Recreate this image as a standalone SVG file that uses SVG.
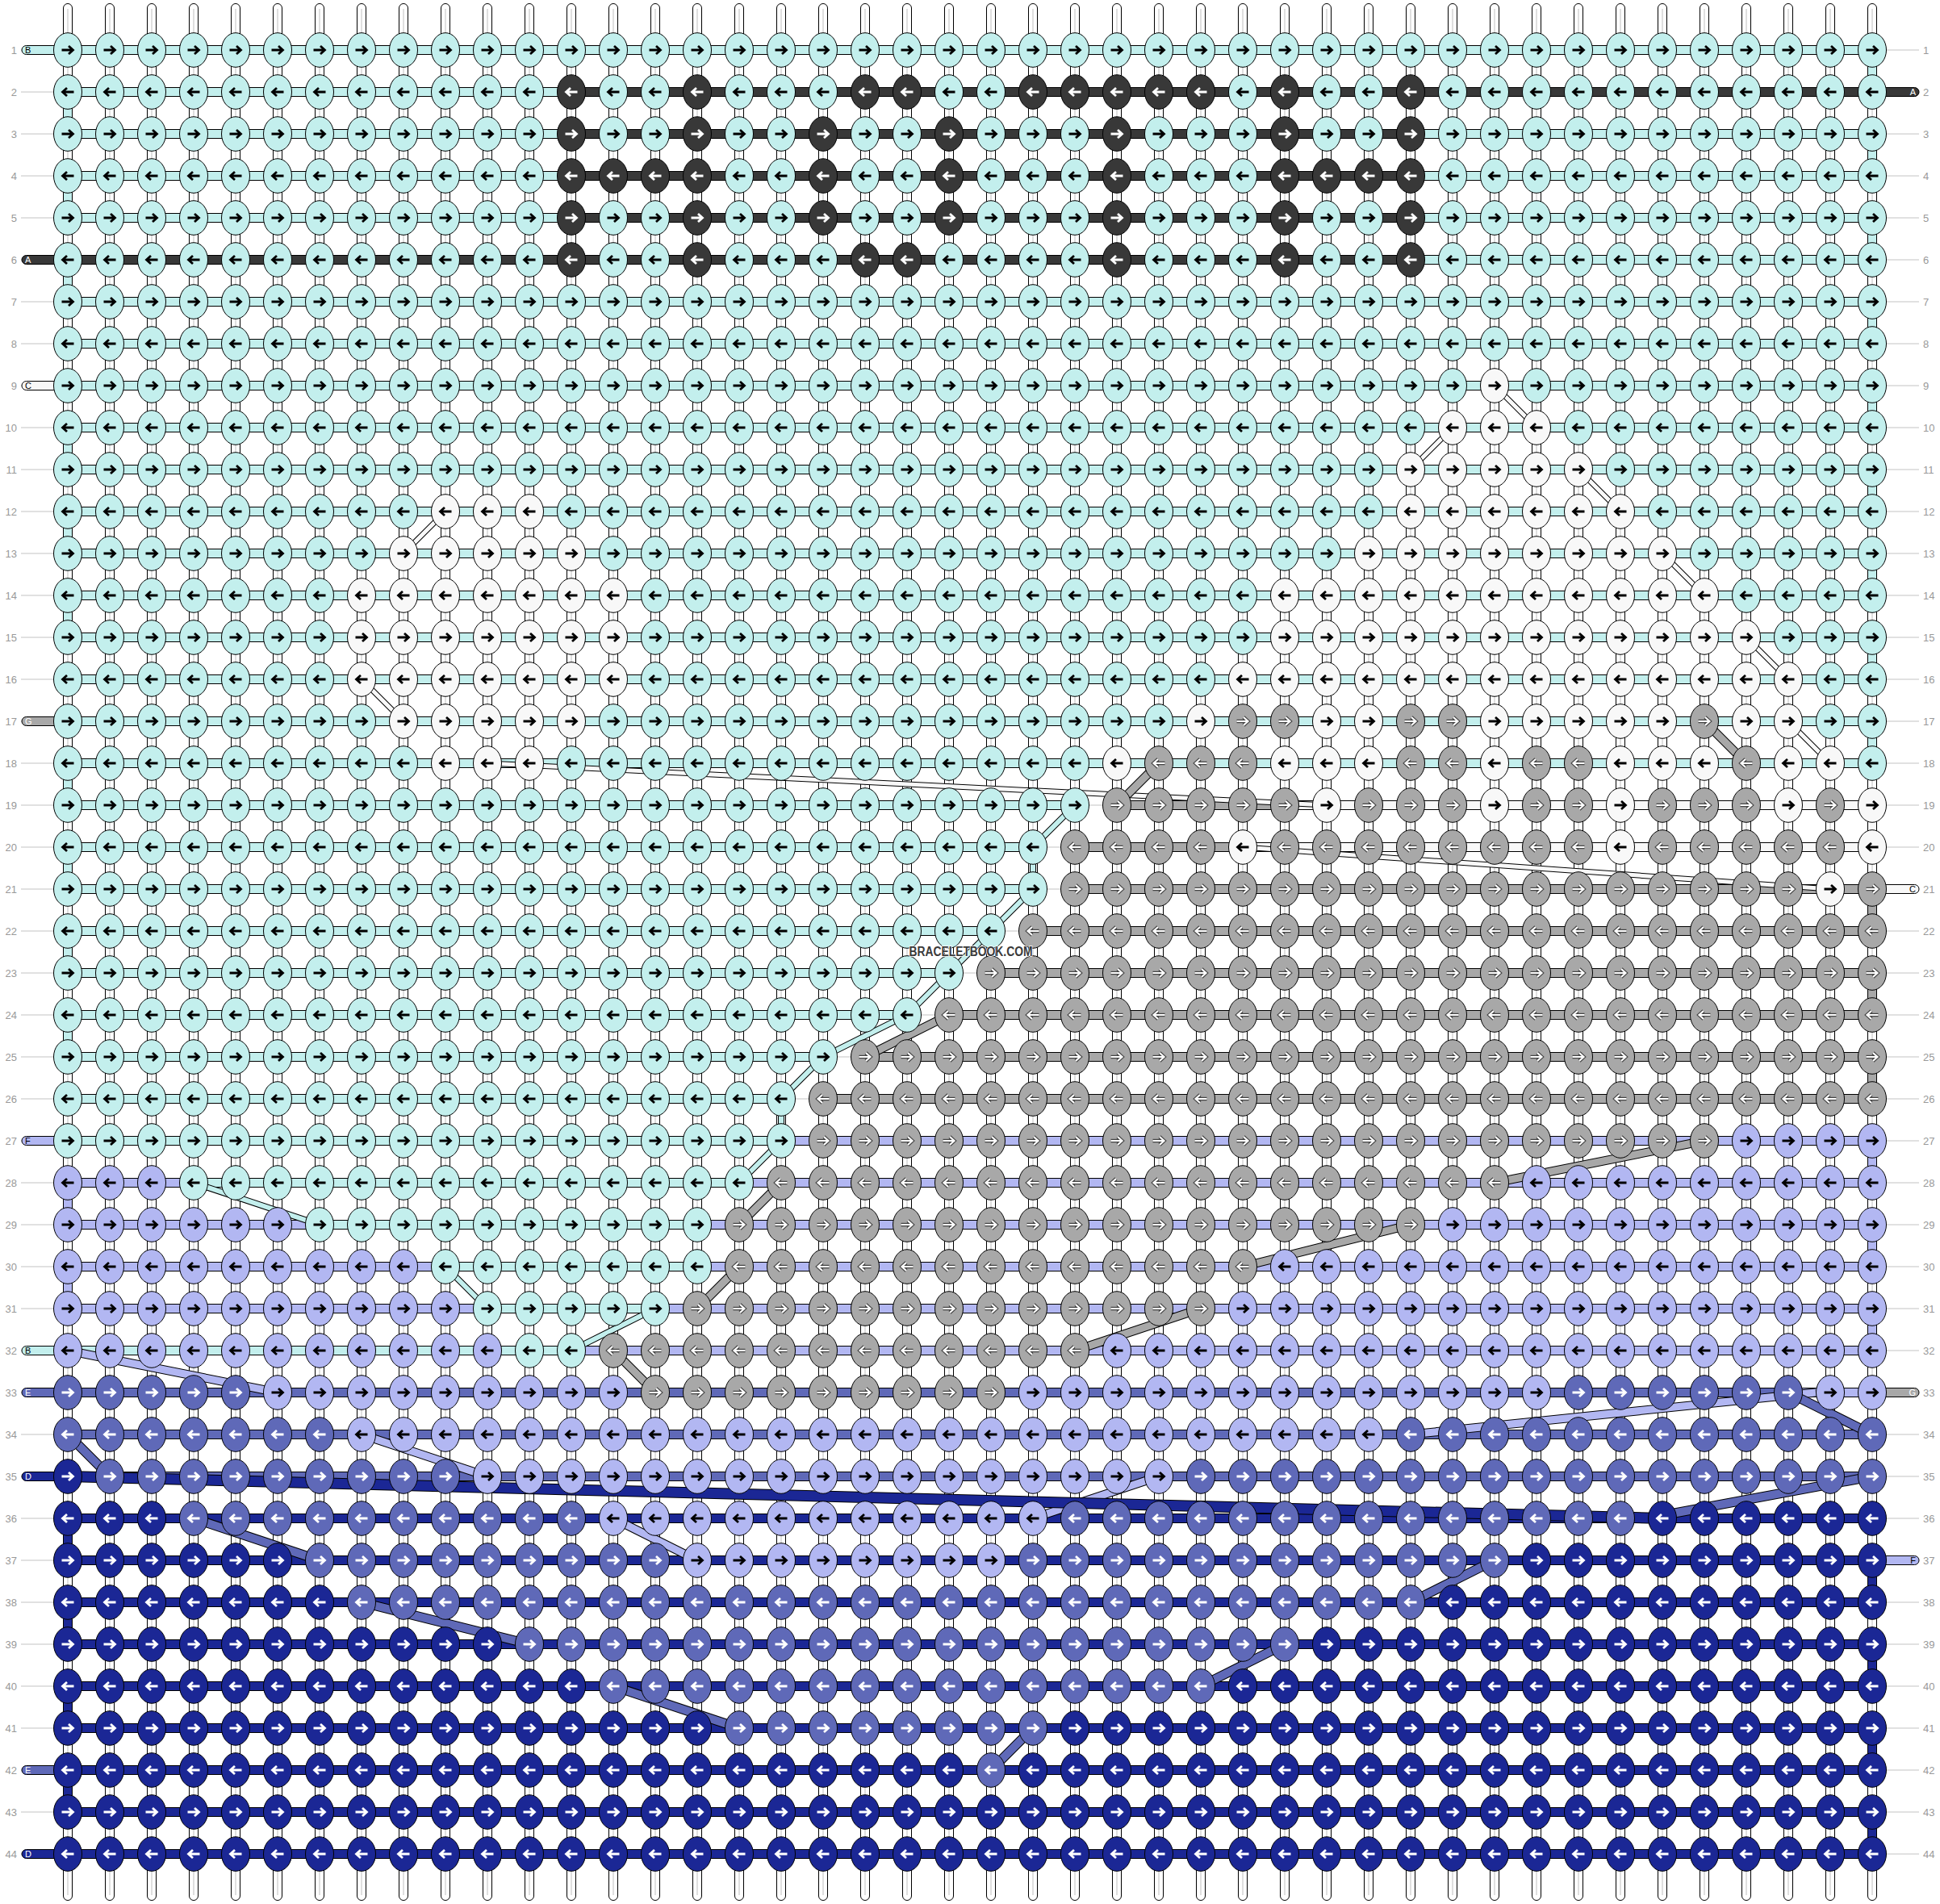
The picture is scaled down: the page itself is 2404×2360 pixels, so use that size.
<svg xmlns="http://www.w3.org/2000/svg" xmlns:xlink="http://www.w3.org/1999/xlink" width="2404" height="2360" viewBox="0 0 2404 2360">
<style>
.k rect{height:52px}
.c{fill:url(#Pc)}.w{fill:url(#Pw)}.d{fill:url(#Pd)}.g{fill:url(#Pg)}.l{fill:url(#Pl)}.m{fill:url(#Pm)}.n{fill:url(#Pn)}
.b rect{height:11px;stroke:#000;stroke-width:1}
.t rect{width:11px;height:52px;stroke:#000;stroke-width:1}
.bc{fill:#c3efed}.bw{fill:#f8f8f8}.bd{fill:#383838}.bg{fill:#a8a8a8}.bl{fill:#b2b7f2}.bm{fill:#5f69b8}.bn{fill:#1b2795}
.num{font-family:"Liberation Sans",Arial,sans-serif;font-size:13px;fill:#999}
.lab{font-family:"Liberation Sans",Arial,sans-serif;font-size:11px}
</style>
<defs>
<g id="kR"><ellipse rx="17.5" ry="21.3" stroke="#000"/><path d="M-7.5 0H6M1-5L6.5 0 1 5" fill="none" stroke="currentColor" stroke-width="2.8"/></g>
<g id="kL"><ellipse rx="17.5" ry="21.3" stroke="#000"/><path d="M7.5 0H-6M-1-5L-6.5 0-1 5" fill="none" stroke="currentColor" stroke-width="2.8"/></g>
<g id="oR"><ellipse rx="17.5" ry="21.3" stroke="#000"/><path d="M-7.5 0H6M1-5L6.5 0 1 5" fill="none" stroke="#444" stroke-width="4.4"/><path d="M-7.5 0H6M1-5L6.5 0 1 5" fill="none" stroke="#fff" stroke-width="2.2"/></g>
<g id="oL"><ellipse rx="17.5" ry="21.3" stroke="#000"/><path d="M7.5 0H-6M-1-5L-6.5 0-1 5" fill="none" stroke="#444" stroke-width="4.4"/><path d="M7.5 0H-6M-1-5L-6.5 0-1 5" fill="none" stroke="#fff" stroke-width="2.2"/></g>
<pattern id="Pc" patternUnits="userSpaceOnUse" x="58" y="36" width="52" height="104"><g fill="#c3efed" color="#000"><use href="#kR" x="26" y="26"/><use href="#kL" x="26" y="78"/></g></pattern>
<pattern id="Pw" patternUnits="userSpaceOnUse" x="58" y="36" width="52" height="104"><g fill="#f8f8f8" color="#000"><use href="#kR" x="26" y="26"/><use href="#kL" x="26" y="78"/></g></pattern>
<pattern id="Pd" patternUnits="userSpaceOnUse" x="58" y="36" width="52" height="104"><g fill="#383838" color="#fff"><use href="#kR" x="26" y="26"/><use href="#kL" x="26" y="78"/></g></pattern>
<pattern id="Pg" patternUnits="userSpaceOnUse" x="58" y="36" width="52" height="104"><g fill="#a8a8a8"><use href="#oR" x="26" y="26"/><use href="#oL" x="26" y="78"/></g></pattern>
<pattern id="Pl" patternUnits="userSpaceOnUse" x="58" y="36" width="52" height="104"><g fill="#b2b7f2" color="#000"><use href="#kR" x="26" y="26"/><use href="#kL" x="26" y="78"/></g></pattern>
<pattern id="Pm" patternUnits="userSpaceOnUse" x="58" y="36" width="52" height="104"><g fill="#5f69b8" color="#fff"><use href="#kR" x="26" y="26"/><use href="#kL" x="26" y="78"/></g></pattern>
<pattern id="Pn" patternUnits="userSpaceOnUse" x="58" y="36" width="52" height="104"><g fill="#1b2795" color="#fff"><use href="#kR" x="26" y="26"/><use href="#kL" x="26" y="78"/></g></pattern>
<pattern id="V" patternUnits="userSpaceOnUse" x="58" y="0" width="52" height="2360"><rect x="20.5" y="4.5" width="11" height="2351" rx="5.5" fill="#fff" stroke="#000"/><path d="M26 11V2349" stroke="#c0c0c0"/></pattern>
<pattern id="H" patternUnits="userSpaceOnUse" x="0" y="36" width="2404" height="52"><rect y="25.5" width="2404" height="1" fill="#c4c4c4"/></pattern>
<path id="cnW" d="M1852 478L1904 530M1800 530L1748 582M1956 582L2008 634M2060 686L2112 738M2164 790L2216 842M2216 894L2268 946M552 634L500 686M448 842L500 894M604 946L1644 998M1540 1050L2268 1102"/>
<path id="cnC" d="M1332 998L1280 1050L1280 1102L1228 1154L1176 1206L1124 1258L1020 1310L968 1362L968 1414L916 1466M240 1466L396 1518M552 1570L604 1622M812 1622L708 1674"/>
<path id="cnG" d="M2112 894L2164 946M1436 946L1384 998M1176 1258L1072 1310M2112 1414L1852 1466M1748 1518L1540 1570M1488 1622L1332 1674M968 1466L916 1518M916 1570L864 1622M760 1674L812 1726"/>
<path id="cnL" d="M84 1674L344 1726M448 1778L604 1830M760 1882L864 1934M2250 1726L1748 1778M1436 1830L1280 1882"/>
<path id="cnM" d="M84 1778L136 1830M2216 1726L2320 1778M2320 1830L2040 1882M240 1882L396 1934M448 1986L656 2038M760 2090L916 2142M1852 1934L1748 1986M1592 2038L1488 2090M1280 2142L1228 2194"/>
<path id="cnN" d="M84 1830L2060 1882"/>
</defs>
<rect width="2404" height="2360" fill="#fff"/>
<rect id="row-lines" x="26" y="36" width="2352" height="2288" fill="url(#H)"/>
<rect id="vertical-strings" x="58" y="0" width="2288" height="2360" fill="url(#V)"/>
<g id="bands" class="b">
<rect class="bc" x="27" y="56.5" width="70" rx="5.5"/><rect class="bc" x="84" y="56.5" width="2236"/>
<rect class="bc" x="84" y="108.5" width="624"/><rect class="bd" x="708" y="108.5" width="1612"/><rect class="bd" x="2308" y="108.5" width="70" rx="5.5"/>
<rect class="bc" x="84" y="160.5" width="624"/><rect class="bd" x="708" y="160.5" width="1040"/><rect class="bc" x="1748" y="160.5" width="572"/>
<rect class="bc" x="84" y="212.5" width="624"/><rect class="bd" x="708" y="212.5" width="1040"/><rect class="bc" x="1748" y="212.5" width="572"/>
<rect class="bc" x="84" y="264.5" width="624"/><rect class="bd" x="708" y="264.5" width="1040"/><rect class="bc" x="1748" y="264.5" width="572"/>
<rect class="bd" x="27" y="316.5" width="70" rx="5.5"/><rect class="bd" x="84" y="316.5" width="1664"/><rect class="bc" x="1748" y="316.5" width="572"/>
<rect class="bc" x="84" y="368.5" width="2236"/>
<rect class="bc" x="84" y="420.5" width="2236"/>
<rect class="bw" x="27" y="472.5" width="70" rx="5.5"/><rect class="bc" x="84" y="472.5" width="2236"/>
<rect class="bc" x="84" y="524.5" width="2236"/>
<rect class="bc" x="84" y="576.5" width="2236"/>
<rect class="bc" x="84" y="628.5" width="2236"/>
<rect class="bc" x="84" y="680.5" width="2236"/>
<rect class="bc" x="84" y="732.5" width="2236"/>
<rect class="bc" x="84" y="784.5" width="2236"/>
<rect class="bc" x="84" y="836.5" width="2236"/>
<rect class="bg" x="27" y="888.5" width="70" rx="5.5"/><rect class="bc" x="84" y="888.5" width="2236"/>
<rect class="bc" x="84" y="940.5" width="2236"/>
<rect class="bc" x="84" y="992.5" width="1248"/><rect class="bg" x="1384" y="992.5" width="208"/><rect class="bw" x="1592" y="992.5" width="728"/>
<rect class="bc" x="84" y="1044.5" width="1196"/><rect class="bg" x="1332" y="1044.5" width="208"/><rect class="bw" x="1540" y="1044.5" width="780"/>
<rect class="bc" x="84" y="1096.5" width="1196"/><rect class="bg" x="1332" y="1096.5" width="988"/><rect class="bw" x="2308" y="1096.5" width="70" rx="5.5"/>
<rect class="bc" x="84" y="1148.5" width="1144"/><rect class="bg" x="1280" y="1148.5" width="1040"/>
<rect class="bc" x="84" y="1200.5" width="1092"/><rect class="bg" x="1228" y="1200.5" width="1092"/>
<rect class="bc" x="84" y="1252.5" width="1040"/><rect class="bg" x="1176" y="1252.5" width="1144"/>
<rect class="bc" x="84" y="1304.5" width="936"/><rect class="bg" x="1072" y="1304.5" width="1248"/>
<rect class="bc" x="84" y="1356.5" width="884"/><rect class="bg" x="1020" y="1356.5" width="1300"/>
<rect class="bl" x="27" y="1408.5" width="70" rx="5.5"/><rect class="bc" x="84" y="1408.5" width="884"/><rect class="bl" x="968" y="1408.5" width="1352"/>
<rect class="bl" x="84" y="1460.5" width="156"/><rect class="bc" x="240" y="1460.5" width="676"/><rect class="bl" x="916" y="1460.5" width="1404"/>
<rect class="bl" x="84" y="1512.5" width="312"/><rect class="bc" x="396" y="1512.5" width="468"/><rect class="bl" x="864" y="1512.5" width="1456"/>
<rect class="bl" x="84" y="1564.5" width="468"/><rect class="bc" x="552" y="1564.5" width="312"/><rect class="bl" x="864" y="1564.5" width="1456"/>
<rect class="bl" x="84" y="1616.5" width="520"/><rect class="bc" x="604" y="1616.5" width="208"/><rect class="bl" x="812" y="1616.5" width="1508"/>
<rect class="bc" x="27" y="1668.5" width="70" rx="5.5"/><rect class="bc" x="84" y="1668.5" width="624"/><rect class="bl" x="708" y="1668.5" width="1612"/>
<rect class="bm" x="27" y="1720.5" width="70" rx="5.5"/><rect class="bm" x="84" y="1720.5" width="2132"/><rect class="bl" x="2216" y="1720.5" width="104"/><rect class="bg" x="2308" y="1720.5" width="70" rx="5.5"/>
<rect class="bm" x="84" y="1772.5" width="2236"/>
<rect class="bn" x="27" y="1824.5" width="70" rx="5.5"/><rect class="bn" x="84" y="1824.5" width="52"/><rect class="bm" x="136" y="1824.5" width="2184"/>
<rect class="bn" x="84" y="1876.5" width="2236"/>
<rect class="bn" x="84" y="1928.5" width="2236"/><rect class="bl" x="2308" y="1928.5" width="70" rx="5.5"/>
<rect class="bn" x="84" y="1980.5" width="2236"/>
<rect class="bn" x="84" y="2032.5" width="2236"/>
<rect class="bn" x="84" y="2084.5" width="2236"/>
<rect class="bn" x="84" y="2136.5" width="2236"/>
<rect class="bm" x="27" y="2188.5" width="70" rx="5.5"/><rect class="bn" x="84" y="2188.5" width="2236"/>
<rect class="bn" x="84" y="2240.5" width="2236"/>
<rect class="bn" x="27" y="2292.5" width="70" rx="5.5"/><rect class="bn" x="84" y="2292.5" width="2236"/>
</g>
<g id="turns" class="t">
<rect class="bc" x="78.5" y="114"/><rect class="bc" x="78.5" y="218"/><rect class="bc" x="78.5" y="322"/><rect class="bc" x="78.5" y="530"/><rect class="bc" x="78.5" y="634"/><rect class="bc" x="78.5" y="738"/><rect class="bc" x="78.5" y="946"/><rect class="bc" x="78.5" y="1050"/><rect class="bc" x="78.5" y="1154"/><rect class="bc" x="78.5" y="1258"/><rect class="bl" x="78.5" y="1466"/><rect class="bl" x="78.5" y="1570"/><rect class="bn" x="78.5" y="1882"/><rect class="bn" x="78.5" y="1986"/><rect class="bn" x="78.5" y="2090"/><rect class="bn" x="78.5" y="2194"/>
<rect class="bc" x="2314.5" y="62"/><rect class="bc" x="2314.5" y="166"/><rect class="bc" x="2314.5" y="270"/><rect class="bc" x="2314.5" y="374"/><rect class="bc" x="2314.5" y="478"/><rect class="bc" x="2314.5" y="582"/><rect class="bc" x="2314.5" y="686"/><rect class="bc" x="2314.5" y="790"/><rect class="bc" x="2314.5" y="894"/><rect class="bw" x="2314.5" y="998"/><rect class="bg" x="2314.5" y="1102"/><rect class="bg" x="2314.5" y="1206"/><rect class="bg" x="2314.5" y="1310"/><rect class="bl" x="2314.5" y="1414"/><rect class="bl" x="2314.5" y="1518"/><rect class="bl" x="2314.5" y="1622"/><rect class="bn" x="2314.5" y="1934"/><rect class="bn" x="2314.5" y="2038"/><rect class="bn" x="2314.5" y="2142"/><rect class="bn" x="2314.5" y="2246"/>
</g>
<g id="connectors" fill="none">
<use href="#cnW" stroke="#000" stroke-width="7"/><use href="#cnW" stroke="#f8f8f8" stroke-width="5"/>
<use href="#cnC" stroke="#000" stroke-width="8"/><use href="#cnC" stroke="#c3efed" stroke-width="6"/>
<use href="#cnG" stroke="#000" stroke-width="11"/><use href="#cnG" stroke="#a8a8a8" stroke-width="9"/>
<use href="#cnL" stroke="#000" stroke-width="11"/><use href="#cnL" stroke="#b2b7f2" stroke-width="9"/>
<use href="#cnM" stroke="#000" stroke-width="12"/><use href="#cnM" stroke="#5f69b8" stroke-width="10"/>
<use href="#cnN" stroke="#000" stroke-width="14"/><use href="#cnN" stroke="#1b2795" stroke-width="12"/>
</g>
<g id="knots" class="k">
<g id="row-1"><rect class="c" x="58" y="36" width="2288"/></g>
<g id="row-2"><rect class="c" x="58" y="88" width="624"/><rect class="d" x="682" y="88" width="52"/><rect class="c" x="734" y="88" width="104"/><rect class="d" x="838" y="88" width="52"/><rect class="c" x="890" y="88" width="156"/><rect class="d" x="1046" y="88" width="104"/><rect class="c" x="1150" y="88" width="104"/><rect class="d" x="1254" y="88" width="260"/><rect class="c" x="1514" y="88" width="52"/><rect class="d" x="1566" y="88" width="52"/><rect class="c" x="1618" y="88" width="104"/><rect class="d" x="1722" y="88" width="52"/><rect class="c" x="1774" y="88" width="572"/></g>
<g id="row-3"><rect class="c" x="58" y="140" width="624"/><rect class="d" x="682" y="140" width="52"/><rect class="c" x="734" y="140" width="104"/><rect class="d" x="838" y="140" width="52"/><rect class="c" x="890" y="140" width="104"/><rect class="d" x="994" y="140" width="52"/><rect class="c" x="1046" y="140" width="104"/><rect class="d" x="1150" y="140" width="52"/><rect class="c" x="1202" y="140" width="156"/><rect class="d" x="1358" y="140" width="52"/><rect class="c" x="1410" y="140" width="156"/><rect class="d" x="1566" y="140" width="52"/><rect class="c" x="1618" y="140" width="104"/><rect class="d" x="1722" y="140" width="52"/><rect class="c" x="1774" y="140" width="572"/></g>
<g id="row-4"><rect class="c" x="58" y="192" width="624"/><rect class="d" x="682" y="192" width="208"/><rect class="c" x="890" y="192" width="104"/><rect class="d" x="994" y="192" width="52"/><rect class="c" x="1046" y="192" width="104"/><rect class="d" x="1150" y="192" width="52"/><rect class="c" x="1202" y="192" width="156"/><rect class="d" x="1358" y="192" width="52"/><rect class="c" x="1410" y="192" width="156"/><rect class="d" x="1566" y="192" width="208"/><rect class="c" x="1774" y="192" width="572"/></g>
<g id="row-5"><rect class="c" x="58" y="244" width="624"/><rect class="d" x="682" y="244" width="52"/><rect class="c" x="734" y="244" width="104"/><rect class="d" x="838" y="244" width="52"/><rect class="c" x="890" y="244" width="104"/><rect class="d" x="994" y="244" width="52"/><rect class="c" x="1046" y="244" width="104"/><rect class="d" x="1150" y="244" width="52"/><rect class="c" x="1202" y="244" width="156"/><rect class="d" x="1358" y="244" width="52"/><rect class="c" x="1410" y="244" width="156"/><rect class="d" x="1566" y="244" width="52"/><rect class="c" x="1618" y="244" width="104"/><rect class="d" x="1722" y="244" width="52"/><rect class="c" x="1774" y="244" width="572"/></g>
<g id="row-6"><rect class="c" x="58" y="296" width="624"/><rect class="d" x="682" y="296" width="52"/><rect class="c" x="734" y="296" width="104"/><rect class="d" x="838" y="296" width="52"/><rect class="c" x="890" y="296" width="156"/><rect class="d" x="1046" y="296" width="104"/><rect class="c" x="1150" y="296" width="208"/><rect class="d" x="1358" y="296" width="52"/><rect class="c" x="1410" y="296" width="156"/><rect class="d" x="1566" y="296" width="52"/><rect class="c" x="1618" y="296" width="104"/><rect class="d" x="1722" y="296" width="52"/><rect class="c" x="1774" y="296" width="572"/></g>
<g id="row-7"><rect class="c" x="58" y="348" width="2288"/></g>
<g id="row-8"><rect class="c" x="58" y="400" width="2288"/></g>
<g id="row-9"><rect class="c" x="58" y="452" width="1768"/><rect class="w" x="1826" y="452" width="52"/><rect class="c" x="1878" y="452" width="468"/></g>
<g id="row-10"><rect class="c" x="58" y="504" width="1716"/><rect class="w" x="1774" y="504" width="156"/><rect class="c" x="1930" y="504" width="416"/></g>
<g id="row-11"><rect class="c" x="58" y="556" width="1664"/><rect class="w" x="1722" y="556" width="260"/><rect class="c" x="1982" y="556" width="364"/></g>
<g id="row-12"><rect class="c" x="58" y="608" width="468"/><rect class="w" x="526" y="608" width="156"/><rect class="c" x="682" y="608" width="1040"/><rect class="w" x="1722" y="608" width="312"/><rect class="c" x="2034" y="608" width="312"/></g>
<g id="row-13"><rect class="c" x="58" y="660" width="416"/><rect class="w" x="474" y="660" width="260"/><rect class="c" x="734" y="660" width="936"/><rect class="w" x="1670" y="660" width="416"/><rect class="c" x="2086" y="660" width="260"/></g>
<g id="row-14"><rect class="c" x="58" y="712" width="364"/><rect class="w" x="422" y="712" width="364"/><rect class="c" x="786" y="712" width="780"/><rect class="w" x="1566" y="712" width="572"/><rect class="c" x="2138" y="712" width="208"/></g>
<g id="row-15"><rect class="c" x="58" y="764" width="364"/><rect class="w" x="422" y="764" width="364"/><rect class="c" x="786" y="764" width="780"/><rect class="w" x="1566" y="764" width="624"/><rect class="c" x="2190" y="764" width="156"/></g>
<g id="row-16"><rect class="c" x="58" y="816" width="364"/><rect class="w" x="422" y="816" width="364"/><rect class="c" x="786" y="816" width="728"/><rect class="w" x="1514" y="816" width="728"/><rect class="c" x="2242" y="816" width="104"/></g>
<g id="row-17"><rect class="c" x="58" y="868" width="416"/><rect class="w" x="474" y="868" width="260"/><rect class="c" x="734" y="868" width="728"/><rect class="w" x="1462" y="868" width="52"/><rect class="g" x="1514" y="868" width="104"/><rect class="w" x="1618" y="868" width="104"/><rect class="g" x="1722" y="868" width="104"/><rect class="w" x="1826" y="868" width="260"/><rect class="g" x="2086" y="868" width="52"/><rect class="w" x="2138" y="868" width="104"/><rect class="c" x="2242" y="868" width="104"/></g>
<g id="row-18"><rect class="c" x="58" y="920" width="468"/><rect class="w" x="526" y="920" width="156"/><rect class="c" x="682" y="920" width="676"/><rect class="w" x="1358" y="920" width="52"/><rect class="g" x="1410" y="920" width="156"/><rect class="w" x="1566" y="920" width="156"/><rect class="g" x="1722" y="920" width="104"/><rect class="w" x="1826" y="920" width="52"/><rect class="g" x="1878" y="920" width="104"/><rect class="w" x="1982" y="920" width="156"/><rect class="g" x="2138" y="920" width="52"/><rect class="w" x="2190" y="920" width="104"/><rect class="c" x="2294" y="920" width="52"/></g>
<g id="row-19"><rect class="c" x="58" y="972" width="1300"/><rect class="g" x="1358" y="972" width="260"/><rect class="w" x="1618" y="972" width="52"/><rect class="g" x="1670" y="972" width="156"/><rect class="w" x="1826" y="972" width="52"/><rect class="g" x="1878" y="972" width="104"/><rect class="w" x="1982" y="972" width="52"/><rect class="g" x="2034" y="972" width="156"/><rect class="w" x="2190" y="972" width="52"/><rect class="g" x="2242" y="972" width="52"/><rect class="w" x="2294" y="972" width="52"/></g>
<g id="row-20"><rect class="c" x="58" y="1024" width="1248"/><rect class="g" x="1306" y="1024" width="208"/><rect class="w" x="1514" y="1024" width="52"/><rect class="g" x="1566" y="1024" width="416"/><rect class="w" x="1982" y="1024" width="52"/><rect class="g" x="2034" y="1024" width="260"/><rect class="w" x="2294" y="1024" width="52"/></g>
<g id="row-21"><rect class="c" x="58" y="1076" width="1248"/><rect class="g" x="1306" y="1076" width="936"/><rect class="w" x="2242" y="1076" width="52"/><rect class="g" x="2294" y="1076" width="52"/></g>
<g id="row-22"><rect class="c" x="58" y="1128" width="1196"/><rect class="g" x="1254" y="1128" width="1092"/></g>
<g id="row-23"><rect class="c" x="58" y="1180" width="1144"/><rect class="g" x="1202" y="1180" width="1144"/></g>
<g id="row-24"><rect class="c" x="58" y="1232" width="1092"/><rect class="g" x="1150" y="1232" width="1196"/></g>
<g id="row-25"><rect class="c" x="58" y="1284" width="988"/><rect class="g" x="1046" y="1284" width="1300"/></g>
<g id="row-26"><rect class="c" x="58" y="1336" width="936"/><rect class="g" x="994" y="1336" width="1352"/></g>
<g id="row-27"><rect class="c" x="58" y="1388" width="936"/><rect class="g" x="994" y="1388" width="1144"/><rect class="l" x="2138" y="1388" width="208"/></g>
<g id="row-28"><rect class="l" x="58" y="1440" width="156"/><rect class="c" x="214" y="1440" width="728"/><rect class="g" x="942" y="1440" width="936"/><rect class="l" x="1878" y="1440" width="468"/></g>
<g id="row-29"><rect class="l" x="58" y="1492" width="312"/><rect class="c" x="370" y="1492" width="520"/><rect class="g" x="890" y="1492" width="884"/><rect class="l" x="1774" y="1492" width="572"/></g>
<g id="row-30"><rect class="l" x="58" y="1544" width="468"/><rect class="c" x="526" y="1544" width="364"/><rect class="g" x="890" y="1544" width="676"/><rect class="l" x="1566" y="1544" width="780"/></g>
<g id="row-31"><rect class="l" x="58" y="1596" width="520"/><rect class="c" x="578" y="1596" width="260"/><rect class="g" x="838" y="1596" width="676"/><rect class="l" x="1514" y="1596" width="832"/></g>
<g id="row-32"><rect class="l" x="58" y="1648" width="572"/><rect class="c" x="630" y="1648" width="104"/><rect class="g" x="734" y="1648" width="624"/><rect class="l" x="1358" y="1648" width="988"/></g>
<g id="row-33"><rect class="m" x="58" y="1700" width="260"/><rect class="l" x="318" y="1700" width="468"/><rect class="g" x="786" y="1700" width="468"/><rect class="l" x="1254" y="1700" width="676"/><rect class="m" x="1930" y="1700" width="312"/><rect class="l" x="2242" y="1700" width="104"/></g>
<g id="row-34"><rect class="m" x="58" y="1752" width="364"/><rect class="l" x="422" y="1752" width="1300"/><rect class="m" x="1722" y="1752" width="624"/></g>
<g id="row-35"><rect class="n" x="58" y="1804" width="52"/><rect class="m" x="110" y="1804" width="468"/><rect class="l" x="578" y="1804" width="884"/><rect class="m" x="1462" y="1804" width="884"/></g>
<g id="row-36"><rect class="n" x="58" y="1856" width="156"/><rect class="m" x="214" y="1856" width="520"/><rect class="l" x="734" y="1856" width="572"/><rect class="m" x="1306" y="1856" width="728"/><rect class="n" x="2034" y="1856" width="312"/></g>
<g id="row-37"><rect class="n" x="58" y="1908" width="312"/><rect class="m" x="370" y="1908" width="468"/><rect class="l" x="838" y="1908" width="416"/><rect class="m" x="1254" y="1908" width="624"/><rect class="n" x="1878" y="1908" width="468"/></g>
<g id="row-38"><rect class="n" x="58" y="1960" width="364"/><rect class="m" x="422" y="1960" width="1352"/><rect class="n" x="1774" y="1960" width="572"/></g>
<g id="row-39"><rect class="n" x="58" y="2012" width="572"/><rect class="m" x="630" y="2012" width="988"/><rect class="n" x="1618" y="2012" width="728"/></g>
<g id="row-40"><rect class="n" x="58" y="2064" width="676"/><rect class="m" x="734" y="2064" width="780"/><rect class="n" x="1514" y="2064" width="832"/></g>
<g id="row-41"><rect class="n" x="58" y="2116" width="832"/><rect class="m" x="890" y="2116" width="416"/><rect class="n" x="1306" y="2116" width="1040"/></g>
<g id="row-42"><rect class="n" x="58" y="2168" width="1144"/><rect class="m" x="1202" y="2168" width="52"/><rect class="n" x="1254" y="2168" width="1092"/></g>
<g id="row-43"><rect class="n" x="58" y="2220" width="2288"/></g>
<g id="row-44"><rect class="n" x="58" y="2272" width="2288"/></g>
</g>
<g id="row-numbers-left" class="num" text-anchor="end">
<text x="21" y="66.5">1</text><text x="21" y="118.5">2</text><text x="21" y="170.5">3</text><text x="21" y="222.5">4</text><text x="21" y="274.5">5</text><text x="21" y="326.5">6</text><text x="21" y="378.5">7</text><text x="21" y="430.5">8</text><text x="21" y="482.5">9</text><text x="21" y="534.5">10</text><text x="21" y="586.5">11</text><text x="21" y="638.5">12</text><text x="21" y="690.5">13</text><text x="21" y="742.5">14</text><text x="21" y="794.5">15</text><text x="21" y="846.5">16</text><text x="21" y="898.5">17</text><text x="21" y="950.5">18</text><text x="21" y="1002.5">19</text><text x="21" y="1054.5">20</text><text x="21" y="1106.5">21</text><text x="21" y="1158.5">22</text><text x="21" y="1210.5">23</text><text x="21" y="1262.5">24</text><text x="21" y="1314.5">25</text><text x="21" y="1366.5">26</text><text x="21" y="1418.5">27</text><text x="21" y="1470.5">28</text><text x="21" y="1522.5">29</text><text x="21" y="1574.5">30</text><text x="21" y="1626.5">31</text><text x="21" y="1678.5">32</text><text x="21" y="1730.5">33</text><text x="21" y="1782.5">34</text><text x="21" y="1834.5">35</text><text x="21" y="1886.5">36</text><text x="21" y="1938.5">37</text><text x="21" y="1990.5">38</text><text x="21" y="2042.5">39</text><text x="21" y="2094.5">40</text><text x="21" y="2146.5">41</text><text x="21" y="2198.5">42</text><text x="21" y="2250.5">43</text><text x="21" y="2302.5">44</text>
</g>
<g id="row-numbers-right" class="num">
<text x="2383" y="66.5">1</text><text x="2383" y="118.5">2</text><text x="2383" y="170.5">3</text><text x="2383" y="222.5">4</text><text x="2383" y="274.5">5</text><text x="2383" y="326.5">6</text><text x="2383" y="378.5">7</text><text x="2383" y="430.5">8</text><text x="2383" y="482.5">9</text><text x="2383" y="534.5">10</text><text x="2383" y="586.5">11</text><text x="2383" y="638.5">12</text><text x="2383" y="690.5">13</text><text x="2383" y="742.5">14</text><text x="2383" y="794.5">15</text><text x="2383" y="846.5">16</text><text x="2383" y="898.5">17</text><text x="2383" y="950.5">18</text><text x="2383" y="1002.5">19</text><text x="2383" y="1054.5">20</text><text x="2383" y="1106.5">21</text><text x="2383" y="1158.5">22</text><text x="2383" y="1210.5">23</text><text x="2383" y="1262.5">24</text><text x="2383" y="1314.5">25</text><text x="2383" y="1366.5">26</text><text x="2383" y="1418.5">27</text><text x="2383" y="1470.5">28</text><text x="2383" y="1522.5">29</text><text x="2383" y="1574.5">30</text><text x="2383" y="1626.5">31</text><text x="2383" y="1678.5">32</text><text x="2383" y="1730.5">33</text><text x="2383" y="1782.5">34</text><text x="2383" y="1834.5">35</text><text x="2383" y="1886.5">36</text><text x="2383" y="1938.5">37</text><text x="2383" y="1990.5">38</text><text x="2383" y="2042.5">39</text><text x="2383" y="2094.5">40</text><text x="2383" y="2146.5">41</text><text x="2383" y="2198.5">42</text><text x="2383" y="2250.5">43</text><text x="2383" y="2302.5">44</text>
</g>
<g id="string-labels" class="lab">
<text x="31" y="66" fill="#000">B</text><text x="31" y="326" fill="#fff">A</text><text x="31" y="482" fill="#000">C</text><text x="31" y="898" fill="#fff">G</text><text x="31" y="1418" fill="#000">F</text><text x="31" y="1678" fill="#000">B</text><text x="31" y="1730" fill="#fff">E</text><text x="31" y="1834" fill="#fff">D</text><text x="31" y="2198" fill="#fff">E</text><text x="31" y="2302" fill="#fff">D</text>
<g text-anchor="end"><text x="2374" y="118" fill="#fff">A</text><text x="2374" y="1106" fill="#000">C</text><text x="2374" y="1730" fill="#fff">G</text><text x="2374" y="1938" fill="#000">F</text></g>
</g>
<text id="watermark" x="1203" y="1185" text-anchor="middle" font-family="Liberation Sans, Arial, sans-serif" font-weight="bold" font-size="16" textLength="153" lengthAdjust="spacingAndGlyphs" fill="#3a3a3a" stroke="#fff" stroke-width="1.5" paint-order="stroke">BRACELETBOOK.COM</text>
</svg>
